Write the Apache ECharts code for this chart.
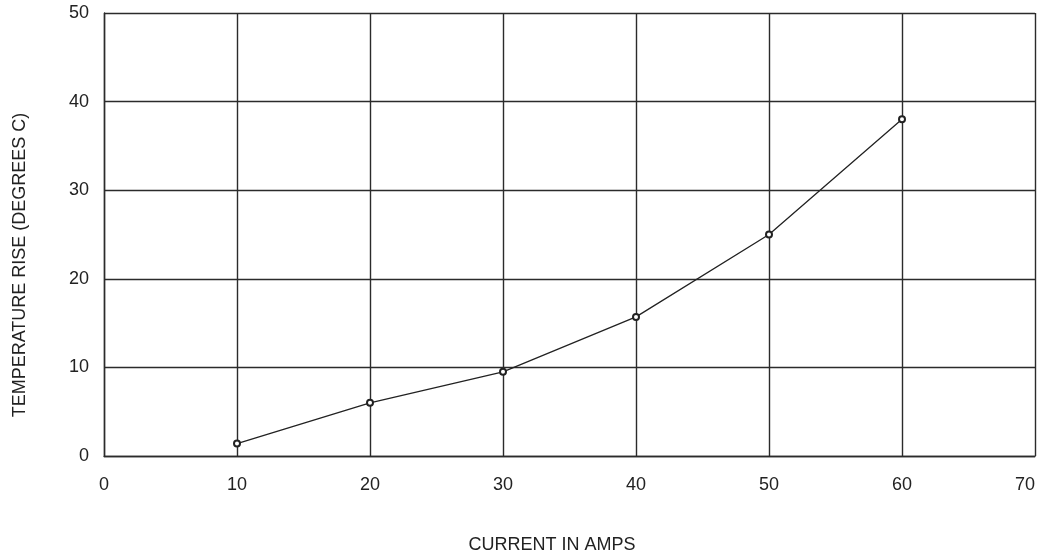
<!DOCTYPE html>
<html>
<head>
<meta charset="utf-8">
<script src="https://cdn.jsdelivr.net/npm/echarts@6/dist/echarts.min.js"></script>
<style>
html,body{margin:0;padding:0;background:#fff;}
#chart{width:1039px;height:552px;}
</style>
</head>
<body>
<div id="chart"></div>
<script>
const currentAmps = [10, 20, 30, 40, 50, 60];
const tempRise = [1.4, 6.0, 9.5, 15.7, 25.0, 38.0];
const xTitle = 'CURRENT IN AMPS';
const yTitle = 'TEMPERATURE RISE (DEGREES C)';

const chart = echarts.init(document.getElementById('chart'), null, {renderer: 'canvas'});
const font = 'Liberation Sans, Arial, sans-serif';
const lineCol = '#2b2b2b';
chart.setOption({
  backgroundColor: '#fff',
  animation: false,
  grid: {left: 104, right: 4, top: 13, bottom: 96, containLabel: false, outerBoundsMode: 'none'},
  xAxis: {
    type: 'value', min: 0, max: 70, interval: 10,
    axisLine: {show: true, lineStyle: {color: lineCol, width: 1.4}},
    axisTick: {show: false},
    splitLine: {show: true, lineStyle: {color: lineCol, width: 1.4}},
    axisLabel: {color: '#222', fontSize: 18, fontFamily: font, margin: 20, alignMaxLabel: 'right'}
  },
  yAxis: {
    type: 'value', min: 0, max: 50, interval: 10,
    axisLine: {show: true, lineStyle: {color: lineCol, width: 1.4}},
    axisTick: {show: false},
    splitLine: {show: true, lineStyle: {color: lineCol, width: 1.4}},
    axisLabel: {color: '#222', fontSize: 18, fontFamily: font, margin: 15}
  },
  graphic: [
    {type: 'text', x: 552, y: 545, style: {text: xTitle, fill: '#222', font: '18px ' + font, align: 'center', verticalAlign: 'middle'}},
    {type: 'text', x: 20, y: 265, rotation: Math.PI / 2, style: {text: yTitle, fill: '#222', font: '18px ' + font, align: 'center', verticalAlign: 'middle'}}
  ],
  series: [{
    type: 'line',
    data: currentAmps.map((x, i) => [x, tempRise[i]]),
    symbol: 'emptyCircle', symbolSize: 6,
    lineStyle: {color: '#222', width: 1.3},
    itemStyle: {color: '#222', borderColor: '#222', borderWidth: 1.2}
  }]
});
</script>
</body>
</html>
